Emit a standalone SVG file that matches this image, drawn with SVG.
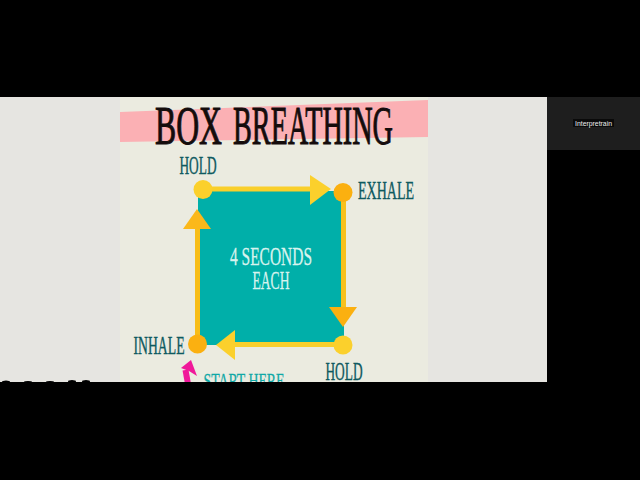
<svg xmlns="http://www.w3.org/2000/svg" width="640" height="480" viewBox="0 0 640 480">
<style>
.t{font-family:"Liberation Serif",serif}
.lab{fill:#0f5a60;font-size:25px;stroke:#0f5a60;stroke-width:.4px}
.wh{fill:#d8f3ee;font-size:25px;stroke:#d8f3ee;stroke-width:.3px}
.ttl{fill:#140c0c;font-size:54px;stroke:#140c0c;stroke-width:1px}
</style>
<rect width="640" height="480" fill="#000"/>
<rect x="0" y="97" width="547" height="285" fill="#e6e5e1"/>
<rect x="120" y="97" width="308" height="285" fill="#ebebe0"/>
<rect x="547" y="97" width="93" height="53" fill="#1e1e1e"/>
<g id="name-tag">
<rect x="573" y="119" width="41" height="8" fill="#0a0a0a"/>
<text x="575" y="125.500" font-family="Liberation Sans, sans-serif" font-size="6.500" fill="#f0f0f0" textLength="37" lengthAdjust="spacingAndGlyphs">Interpretrain</text>
</g>
<g id="title">
<polygon points="120,112 428,100 428,137 120,142" fill="#fbb0b4"/>
<text class="t ttl" x="155" y="144" textLength="67" lengthAdjust="spacingAndGlyphs">BOX</text>
<text class="t ttl" x="233" y="144" textLength="160" lengthAdjust="spacingAndGlyphs">BREATHING</text>
</g>
<g id="square">
<rect x="198" y="191" width="146" height="154" fill="#00afa9"/>
<text class="t wh" x="271" y="265" text-anchor="middle" textLength="82" lengthAdjust="spacingAndGlyphs">4 SECONDS</text>
<text class="t wh" x="271" y="289" text-anchor="middle" textLength="37" lengthAdjust="spacingAndGlyphs">EACH</text>
</g>
<g id="connectors">
<path d="M203 189H315" stroke="#f9cf2b" stroke-width="5" fill="none"/>
<polygon points="310,175 331,189 310,205" fill="#fbd02c"/>
<path d="M343.500 192V310" stroke="#f8c11c" stroke-width="5" fill="none"/>
<polygon points="329,307 357,307 343,327" fill="#fbb010"/>
<path d="M343 344.500H230" stroke="#f9cf2b" stroke-width="5" fill="none"/>
<polygon points="235,330 216,345 235,360" fill="#fbd02c"/>
<path d="M197.500 344V225" stroke="#f8bd18" stroke-width="5" fill="none"/>
<polygon points="197,209 211,229 183,229" fill="#fbb81a"/>
</g>
<g id="hold-top">
<circle cx="203" cy="189.500" r="9.500" fill="#fbd02c"/>
<text class="t lab" x="198" y="174" text-anchor="middle" textLength="37" lengthAdjust="spacingAndGlyphs">HOLD</text>
</g>
<g id="exhale">
<circle cx="343" cy="192.500" r="9.500" fill="#fbb010"/>
<text class="t lab" x="386" y="199" text-anchor="middle" textLength="56" lengthAdjust="spacingAndGlyphs">EXHALE</text>
</g>
<g id="hold-bottom">
<circle cx="343" cy="345" r="9.500" fill="#fbd02c"/>
<text class="t lab" x="344" y="380" text-anchor="middle" textLength="37" lengthAdjust="spacingAndGlyphs">HOLD</text>
</g>
<g id="inhale">
<circle cx="197.500" cy="344" r="9.500" fill="#fbb010"/>
<text class="t lab" x="159" y="354" text-anchor="middle" textLength="51" lengthAdjust="spacingAndGlyphs">INHALE</text>
</g>
<g id="start-here">
<path d="M188 384L185.500 370" stroke="#f0189a" stroke-width="6" fill="none"/>
<polygon points="181,368 191,360 197,376 189,371" fill="#f0189a"/>
<text class="t" x="244" y="388" text-anchor="middle" font-size="21" fill="#10a8a6" stroke="#10a8a6" stroke-width=".3" textLength="81" lengthAdjust="spacingAndGlyphs">START HERE</text>
</g>
<rect x="0" y="382" width="640" height="98" fill="#000"/>
<g id="clipped-strip" fill="#000">
<ellipse cx="6" cy="382" rx="4" ry="1.500"/><ellipse cx="28" cy="382" rx="4" ry="1"/>
<ellipse cx="50" cy="382" rx="4" ry="1"/><ellipse cx="72" cy="381.500" rx="4" ry="1.500"/><ellipse cx="86" cy="381.500" rx="4" ry="1.500"/>
</g>
</svg>
